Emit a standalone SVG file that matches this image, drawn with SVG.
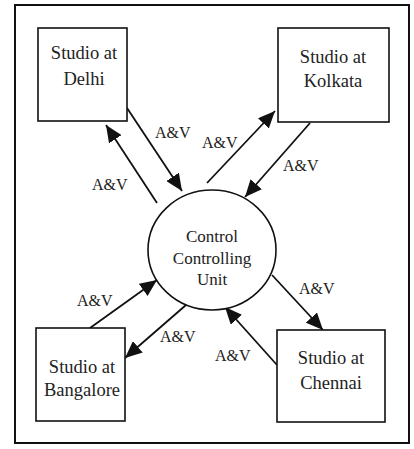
<svg xmlns="http://www.w3.org/2000/svg" width="414" height="449" viewBox="0 0 414 449">
<defs>
<style>
.box{fill:#fff;stroke:#111;stroke-width:1.6}
text{font-family:'Liberation Serif','Times New Roman',Tinos,'DejaVu Serif',serif;fill:#222}
.lbl{font-size:18.5px;text-anchor:middle}
.ctr{font-size:17px;text-anchor:middle}
.av{font-size:16px}
.con{stroke:#111;stroke-width:1.8;fill:none;marker-end:url(#ah)}
</style>
<marker id="ah" markerUnits="userSpaceOnUse" markerWidth="17" markerHeight="15" refX="17" refY="7.5" orient="auto">
<path d="M0,0 L17,7.5 L0,15 z" fill="#111"/>
</marker>
</defs>
<rect width="414" height="449" fill="#fff"/>
<rect x="15" y="5" width="394" height="438" fill="none" stroke="#111" stroke-width="2"/>
<g id="connectors">
<line class="con" x1="127" y1="108" x2="182" y2="191"/>
<line class="con" x1="157" y1="203" x2="106" y2="125"/>
<line class="con" x1="207" y1="183" x2="275" y2="111"/>
<line class="con" x1="310" y1="123" x2="245" y2="197"/>
<line class="con" x1="90" y1="328" x2="157" y2="280"/>
<line class="con" x1="186" y1="305" x2="125" y2="358"/>
<line class="con" x1="272" y1="275" x2="323" y2="330"/>
<line class="con" x1="277" y1="365" x2="225" y2="307"/>
<text class="av" x="155" y="138" font-family="Liberation Serif, serif">A&amp;V</text>
<text class="av" x="92" y="190" font-family="Liberation Serif, serif">A&amp;V</text>
<text class="av" x="202" y="148" font-family="Liberation Serif, serif">A&amp;V</text>
<text class="av" x="283" y="171" font-family="Liberation Serif, serif">A&amp;V</text>
<text class="av" x="77" y="306" font-family="Liberation Serif, serif">A&amp;V</text>
<text class="av" x="160" y="342" font-family="Liberation Serif, serif">A&amp;V</text>
<text class="av" x="299" y="294" font-family="Liberation Serif, serif">A&amp;V</text>
<text class="av" x="215" y="361" font-family="Liberation Serif, serif">A&amp;V</text>
</g>
<g id="delhi">
<rect class="box" x="38" y="28" width="89" height="93"/>
<text class="lbl" x="84" y="59">Studio at</text>
<text class="lbl" x="84" y="85">Delhi</text>
</g>
<g id="kolkata">
<rect class="box" x="278" y="28" width="111" height="94"/>
<text class="lbl" x="333" y="63">Studio at</text>
<text class="lbl" x="333" y="87">Kolkata</text>
</g>
<g id="bangalore">
<rect class="box" x="36" y="328" width="89" height="93"/>
<text class="lbl" x="82" y="373">Studio at</text>
<text class="lbl" x="82" y="396">Bangalore</text>
</g>
<g id="chennai">
<rect class="box" x="277" y="330" width="108" height="92"/>
<text class="lbl" x="331" y="364">Studio at</text>
<text class="lbl" x="331" y="389">Chennai</text>
</g>
<g id="ccu">
<ellipse cx="212" cy="250" rx="64" ry="60" fill="#fff" stroke="#111" stroke-width="1.6"/>
<text class="ctr" x="212" y="242">Control</text>
<text class="ctr" x="212" y="264">Controlling</text>
<text class="ctr" x="212" y="285">Unit</text>
</g>
</svg>
